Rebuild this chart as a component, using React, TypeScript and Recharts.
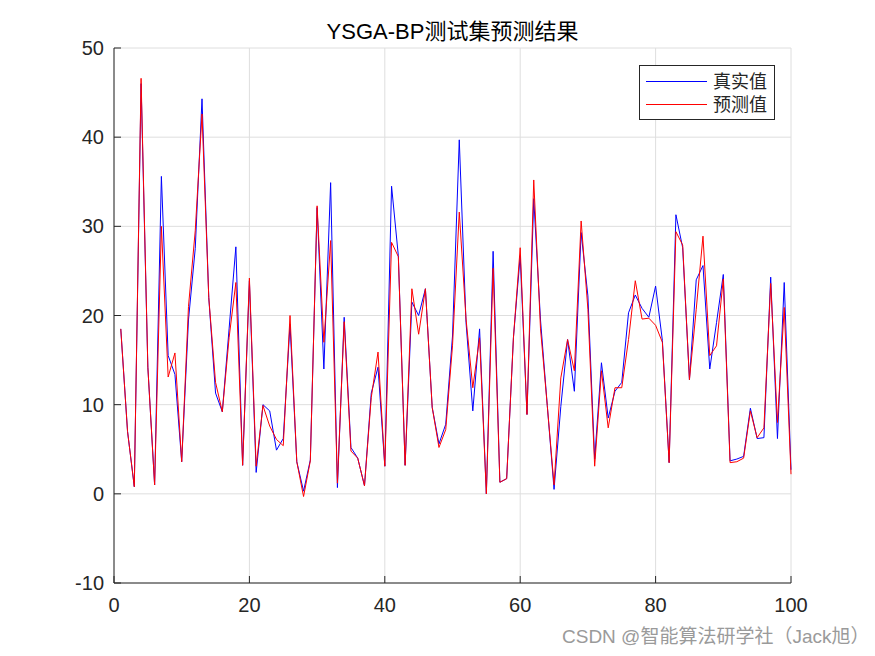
import React from 'react';
import { LineChart, Line, XAxis, YAxis, CartesianGrid } from 'recharts';

const sampleIndex: number[] = Array.from({ length: 100 }, (_, i) => i + 1);

const realValues: number[] = [
  18.5, 7.0, 0.8, 46.0, 14.2, 1.0, 35.6, 15.5, 13.4, 3.6,
  19.5, 27.5, 44.3, 22.0, 11.3, 9.2, 18.5, 27.7, 3.2, 23.9,
  2.4, 10.0, 9.3, 4.9, 6.2, 19.0, 3.6, 0.3, 3.8, 32.1,
  14.0, 34.9, 0.7, 19.8, 5.2, 4.0, 0.9, 11.3, 14.2, 3.1,
  34.5, 26.7, 3.2, 21.5, 20.0, 23.0, 9.7, 5.6, 7.8, 17.7,
  39.7, 19.2, 9.3, 18.5, 0.0, 27.2, 1.3, 1.7, 17.5, 26.7,
  8.9, 33.1, 19.5, 9.9, 0.5, 9.8, 17.3, 11.5, 29.3, 22.2,
  3.9, 14.7, 8.5, 11.5, 12.5, 20.3, 22.3, 20.8, 19.8, 23.3,
  17.2, 3.5, 31.3, 27.6, 12.8, 24.0, 25.6, 14.0, 19.2, 24.6,
  3.7, 3.9, 4.2, 9.6, 6.2, 6.3, 24.3, 6.2, 23.7, 2.7,
];

const predValues: number[] = [
  18.5, 7.0, 0.8, 46.6, 14.2, 1.0, 30.0, 13.1, 15.8, 3.6,
  21.0, 29.5, 42.6, 22.0, 12.5, 9.2, 17.5, 23.7, 3.2, 24.2,
  3.1, 9.9, 7.6, 6.1, 5.4, 20.0, 3.6, -0.3, 3.7, 32.3,
  17.0, 28.4, 1.2, 19.3, 4.8, 4.0, 0.9, 10.8, 15.9, 3.1,
  28.2, 26.6, 3.2, 23.0, 17.9, 23.0, 9.7, 5.2, 7.2, 16.6,
  31.6, 19.6, 11.9, 17.5, 0.0, 25.3, 1.3, 1.7, 17.5, 27.6,
  8.9, 35.2, 18.5, 9.9, 1.0, 13.0, 17.3, 13.8, 30.6, 20.7,
  3.1, 13.8, 7.4, 11.9, 11.9, 17.3, 23.9, 19.6, 19.7, 18.9,
  17.0, 3.5, 29.4, 27.9, 12.8, 20.7, 28.9, 15.5, 16.6, 24.1,
  3.5, 3.6, 4.0, 9.3, 6.3, 7.4, 23.6, 8.0, 20.9, 2.2,
];

const xTicks: number[] = [0, 20, 40, 60, 80, 100];
const yTicks: number[] = [-10, 0, 10, 20, 30, 40, 50];

const titleText = 'YSGA-BP测试集预测结果';
const legendLabels: string[] = ['真实值', '预测值'];
const watermarkText = 'CSDN @智能算法研学社（Jack旭）';

const data = sampleIndex.map((x, i) => ({ x, real: realValues[i], pred: predValues[i] }));

const AXIS = '#262626';
const FONT = 'Arial, "Liberation Sans", "Noto Sans CJK SC", sans-serif';
const emptyTick = () => <g />;

export default function App() {
  return (
    <div style={{ position: 'absolute', left: 0, top: 0, width: 875, height: 656, background: '#fff' }}>
      <LineChart
        width={875}
        height={656}
        data={data}
        margin={{ top: 48, right: 84, bottom: 33, left: 54 }}
      >
        <CartesianGrid stroke="#dedede" strokeWidth={1} />
        <XAxis
          dataKey="x"
          type="number"
          domain={[0, 100]}
          ticks={xTicks}
          height={40}
          tickSize={-7}
          tickMargin={22}
          axisLine={{ stroke: AXIS, strokeWidth: 1 }}
          tickLine={{ stroke: AXIS }}
          tick={{ fill: AXIS, fontSize: 20, fontFamily: FONT }}
        />
        <XAxis
          xAxisId="top"
          orientation="top"
          dataKey="x"
          type="number"
          domain={[0, 100]}
          ticks={xTicks}
          height={0}
          tickSize={-7}
          axisLine={{ stroke: AXIS, strokeWidth: 1 }}
          tickLine={{ stroke: AXIS }}
          tick={emptyTick}
        />
        <YAxis
          type="number"
          domain={[-10, 50]}
          ticks={yTicks}
          width={60}
          tickSize={-7}
          tickMargin={17}
          allowDataOverflow
          axisLine={{ stroke: AXIS, strokeWidth: 1 }}
          tickLine={{ stroke: AXIS }}
          tick={{ fill: AXIS, fontSize: 20, fontFamily: FONT }}
        />
        <YAxis
          yAxisId="right"
          orientation="right"
          type="number"
          domain={[-10, 50]}
          ticks={yTicks}
          width={0}
          tickSize={-7}
          allowDataOverflow
          axisLine={{ stroke: AXIS, strokeWidth: 1 }}
          tickLine={{ stroke: AXIS }}
          tick={emptyTick}
        />
        <Line
          type="linear"
          dataKey="real"
          stroke="#0000ff"
          strokeWidth={1}
          dot={false}
          isAnimationActive={false}
        />
        <Line
          type="linear"
          dataKey="pred"
          stroke="#ff0000"
          strokeWidth={1}
          dot={false}
          isAnimationActive={false}
        />
      </LineChart>
      <svg
        width={875}
        height={656}
        style={{ position: 'absolute', left: 0, top: 0, pointerEvents: 'none' }}
      >
        <text x={452.5} y={38.5} textAnchor="middle" fontSize={22} fontFamily={FONT} fill="#000">
          {titleText}
        </text>
        <rect x={639.5} y={65.5} width={135} height={54} fill="#fff" stroke={AXIS} strokeWidth={1} />
        <line x1={646} x2={707} y1={81.5} y2={81.5} stroke="#0000ff" strokeWidth={1} />
        <line x1={646} x2={707} y1={104.5} y2={104.5} stroke="#ff0000" strokeWidth={1} />
        <text x={713} y={88} fontSize={18} fontFamily={FONT} fill={AXIS}>
          {legendLabels[0]}
        </text>
        <text x={713} y={111} fontSize={18} fontFamily={FONT} fill={AXIS}>
          {legendLabels[1]}
        </text>
        <text x={562} y={643} fontSize={19} fontFamily={FONT} fill="#9a9a9a">
          {watermarkText}
        </text>
      </svg>
    </div>
  );
}
